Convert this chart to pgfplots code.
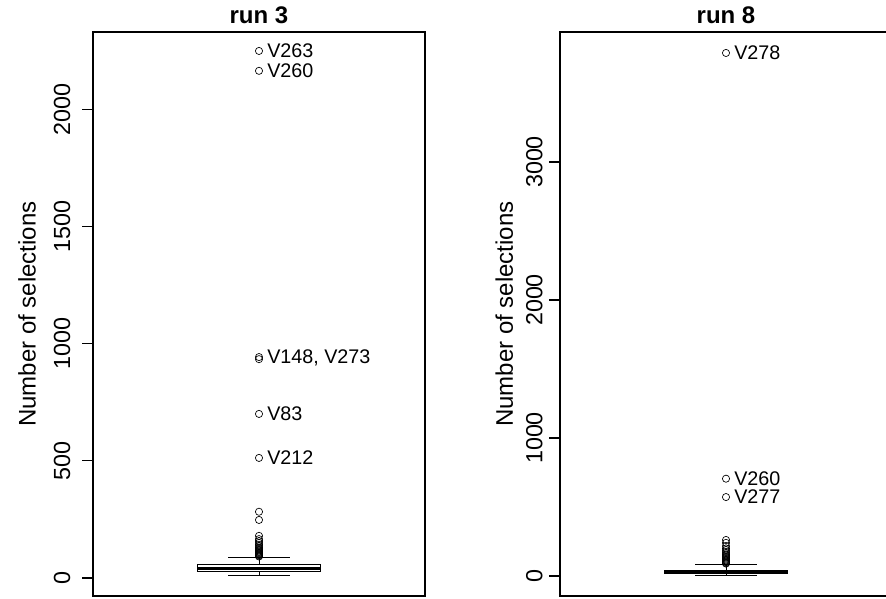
\documentclass[border=0pt]{standalone}
\usepackage{pgfplots}
\pgfplotsset{compat=1.18}
\usepgfplotslibrary{statistics}
\usepackage{fontspec}
\setmainfont{Liberation Sans}
\pgfplotsset{
  rbox/.style={
    scale only axis, width=249pt, height=423pt,
    xmin=0.46, xmax=1.54, xtick=\empty,
    ytick pos=left, tick align=outside, major tick length=8pt,
    /pgf/number format/assume math mode=true,
    /pgf/number format/1000 sep={},
    yticklabel style={rotate=90, anchor=south, font=\fontsize{17.5}{18}\selectfont},
    ylabel={Number of selections},
    ylabel style={font=\fontsize{18}{19}\selectfont, rotate=0, anchor=center},
    title style={at={(axis description cs:0.5,1)}, anchor=south, yshift=-3pt, font=\fontsize{18}{19}\selectfont\bfseries},
    axis line style={line width=0.8pt},
    tick style={line width=0.8pt, black},
    clip=false,
    boxplot/draw direction=y,
    boxplot/box extend=0.4,
    boxplot/whisker extend=0.2,
    boxplot/every median/.style={line width=2.2pt},
  },
}
\tikzset{olab/.style={anchor=west, font=\fontsize{14.8}{15}\selectfont, inner sep=0pt, xshift=6pt}}
\begin{document}
\begin{tikzpicture}
% ---------- run 3 ----------
\begin{axis}[rbox, at={(69.75pt,2.25pt)}, anchor=south west,
  ymin=-77, ymax=2333, ytick={0,500,1000,1500,2000},
  yticklabel shift=5.5pt,
  title={run 3},
  ylabel style={at={(axis description cs:-0.199,0.5)}}]
\addplot[black, line width=0.6pt, boxplot prepared={draw position=1,
  lower whisker=13, lower quartile=27, median=40, upper quartile=58, upper whisker=90}]
  coordinates {};
\addplot[only marks, mark=o, mark size=2.7pt, mark options={line width=0.5pt}, black] coordinates {
 (1,92) (1,95) (1,98) (1,101) (1,104) (1,107) (1,110) (1,113) (1,117) (1,121)
 (1,125) (1,130) (1,136) (1,142) (1,150) (1,158) (1,166) (1,180)
 (1,248) (1,283) (1,513) (1,701) (1,935) (1,944) (1,2167) (1,2252)};
\node[olab] at (axis cs:1,2252) {V263};
\node[olab] at (axis cs:1,2167) {V260};
\node[olab] at (axis cs:1,940) {V148, V273};
\node[olab] at (axis cs:1,701) {V83};
\node[olab] at (axis cs:1,513) {V212};
\end{axis}
% ---------- run 8 ----------
\begin{axis}[rbox, at={(420pt,2.25pt)}, anchor=south west,
  ymin=-145, ymax=3942, ytick={0,1000,2000,3000},
  yticklabel shift=1.5pt,
  title={run 8},
  ylabel style={at={(axis description cs:-0.168,0.5)}}]
\addplot[black, line width=0.6pt, boxplot prepared={draw position=1,
  lower whisker=6, lower quartile=22, median=33, upper quartile=44, upper whisker=87}]
  coordinates {};
\addplot[only marks, mark=o, mark size=2.7pt, mark options={line width=0.5pt}, black] coordinates {
 (1,90) (1,95) (1,100) (1,106) (1,112) (1,118) (1,125) (1,132) (1,140) (1,148)
 (1,156) (1,165) (1,175) (1,188) (1,200) (1,217) (1,240) (1,261)
 (1,572) (1,705) (1,3790)};
\node[olab] at (axis cs:1,3790) {V278};
\node[olab] at (axis cs:1,705) {V260};
\node[olab] at (axis cs:1,572) {V277};
\end{axis}
\pgfresetboundingbox
\path[use as bounding box] (0,0) rectangle (664.5pt,449.25pt);
\end{tikzpicture}
\end{document}
